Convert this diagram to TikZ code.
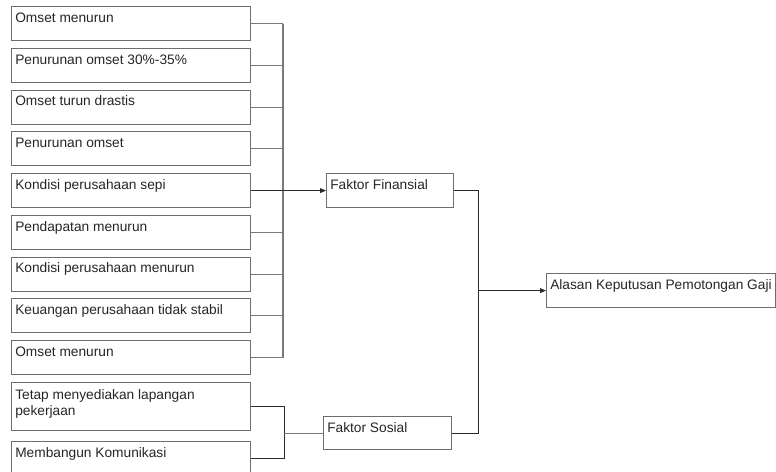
\documentclass[tikz,border=0pt]{standalone}
\usepackage{fontspec}
\setmainfont{Liberation Sans}
\usetikzlibrary{arrows.meta}
\definecolor{boxgray}{HTML}{6E6E6E}
\definecolor{busgray}{HTML}{7A7A7A}
\definecolor{linedark}{HTML}{2A2A2A}
\tikzset{
  box/.style={draw=boxgray, line width=0.9pt, rectangle, anchor=north west, inner sep=0pt,
              minimum height=25.5pt, fill=white},
  leftbox/.style={box, minimum width=179.25pt},
  txtfont/.style={inner sep=0pt, font=\fontsize{10.3}{12}\selectfont, text=black!85},
  txt/.style={txtfont, anchor=north west, text height=12pt},
  txtml/.style={txtfont, anchor=north west, align=left},
  bus/.style={draw=busgray, line width=0.9pt},
  dark/.style={draw=linedark, line width=0.7pt},
  arr/.style={dark, -{Triangle[length=4.5pt,width=3.6pt]}}
}
\begin{document}
\begin{tikzpicture}[x=0.75pt,y=-0.75pt]
\clip (0,0) rectangle (776,472);
\fill[white] (0,0) rectangle (776,472);

% left boxes
\node[leftbox] (b1) at (11,6) {};
\node[leftbox] (b2) at (11,47.75) {};
\node[leftbox] (b3) at (11,89.5) {};
\node[leftbox] (b4) at (11,131.25) {};
\node[leftbox] (b5) at (11,173) {};
\node[leftbox] (b6) at (11,214.75) {};
\node[leftbox] (b7) at (11,256.5) {};
\node[leftbox] (b8) at (11,298.25) {};
\node[leftbox] (b9) at (11,340) {};
\node[leftbox, minimum height=36pt] (b10) at (11,382) {};
\node[leftbox] (b11) at (11,441) {};

\node[txt] (t1) at ([xshift=3pt]b1.north west) {Omset menurun};
\node[txt] (t2) at ([xshift=3pt]b2.north west) {Penurunan omset 30\%-35\%};
\node[txt] (t3) at ([xshift=3pt]b3.north west) {Omset turun drastis};
\node[txt] (t4) at ([xshift=3pt]b4.north west) {Penurunan omset};
\node[txt] (t5) at ([xshift=3pt]b5.north west) {Kondisi perusahaan sepi};
\node[txt] (t6) at ([xshift=3pt]b6.north west) {Pendapatan menurun};
\node[txt] (t7) at ([xshift=3pt]b7.north west) {Kondisi perusahaan menurun};
\node[txt] (t8) at ([xshift=3pt]b8.north west) {Keuangan perusahaan tidak stabil};
\node[txt] (t9) at ([xshift=3pt]b9.north west) {Omset menurun};
\node[txtml] (t10) at ([xshift=3pt,yshift=-5.25pt]b10.north west) {Tetap menyediakan lapangan\\pekerjaan};
\node[txt] (t11) at ([xshift=3pt]b11.north west) {Membangun Komunikasi};

% middle and right boxes
\node[box, minimum width=95.25pt] (ff) at (326,173) {};
\node[txt] (tff) at ([xshift=3pt]ff.north west) {Faktor Finansial};
\node[box, minimum width=96pt, minimum height=24.75pt] (fs) at (323,416) {};
\node[txt] (tfs) at ([xshift=3pt]fs.north west) {Faktor Sosial};
\node[box, minimum width=171.75pt] (al) at (546,273) {};
\node[txt] (tal) at ([xshift=3pt]al.north west) {Alasan Keputusan Pemotongan Gaji};

% left bus
\coordinate (busx) at (283,0);
\foreach \b in {b1,b2,b3,b4,b6,b7,b8,b9}{
  \draw[bus] (\b.east) -- (\b.east -| busx);
}
\draw[bus] (b5.east) -- (b5.east -| busx);
\draw[bus] (b1.east -| busx) -- (b9.east -| busx);
\draw[arr] (b5.east) -- (ff.west);

% social bus
\coordinate (sbx) at (284,0);
\draw[dark] (b10.east) -- (b10.east -| sbx) -- (b11.east -| sbx) -- (b11.east);
\draw[bus] (fs.west -| sbx) -- (fs.west);

% right bus
\coordinate (rbx) at (478,0);
\draw[dark] (ff.east) -- (ff.east -| rbx) -- (fs.east -| rbx) -- (fs.east);
\draw[arr] (al.west -| rbx) -- (al.west);
\end{tikzpicture}
\end{document}
